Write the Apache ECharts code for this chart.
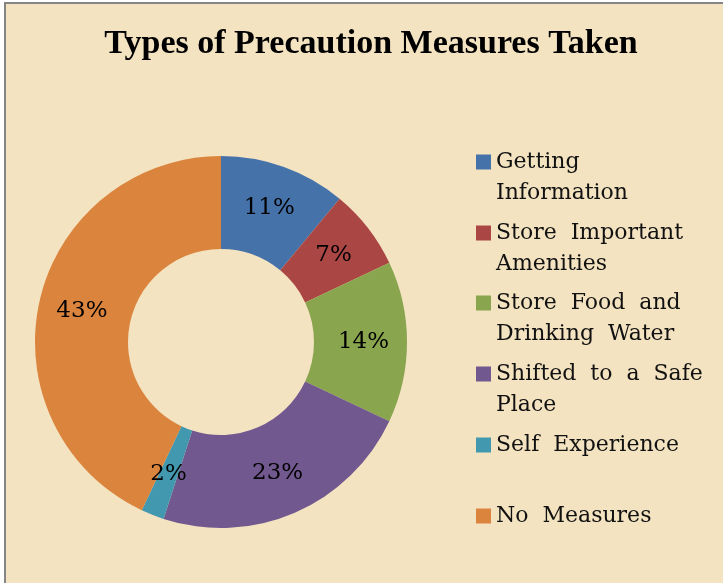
<!DOCTYPE html>
<html>
<head>
<meta charset="utf-8">
<script src="https://cdn.jsdelivr.net/npm/echarts@6/dist/echarts.min.js"></script>
<style>
  html, body { margin: 0; padding: 0; background: #fff; overflow: hidden; }
  #frame {
    position: absolute; left: 4px; top: 2px;
    width: 730px; height: 590px;
    border: 2px solid #858585;
    background: #f3e3c1;
  }
  #chart { width: 730px; height: 590px; }
</style>
</head>
<body>
<div id="frame"><div id="chart"></div></div>
<script>
// chart data
var categories = [
    "Getting Information",
    "Store Important Amenities",
    "Store Food and Drinking Water",
    "Shifted to a Safe Place",
    "Self Experience",
    "No Measures"
];
var values = [11, 7, 14, 23, 2, 43];
var legendLines = [
    ["Getting", "Information"],
    ["Store  Important", "Amenities"],
    ["Store  Food  and", "Drinking  Water"],
    ["Shifted  to  a  Safe", "Place"],
    ["Self  Experience", ""],
    ["No  Measures", ""]
];
var colors = ["#4672aa", "#aa4643", "#89a54e", "#71588f", "#4198af", "#db843d"];

var chart = echarts.init(document.getElementById("chart"));

var txtFont = "DejaVu Serif";
var legendCenters = [158, 229, 299, 370, 441, 512]; // y of each legend icon
var legends = categories.map(function(name, i) {
    return {
        data: [name],
        orient: "vertical",
        left: 470,
        top: legendCenters[i] - 46.5,
        padding: 0,
        itemWidth: 15,
        itemHeight: 15,
        itemGap: 0,
        icon: "rect",
        selectedMode: false,
        formatter: function() {
            return "\n" + legendLines[i][0] + "\n" + legendLines[i][1];
        },
        textStyle: {
            fontFamily: txtFont,
            fontSize: 22,
            lineHeight: 31,
            color: "#111"
        }
    };
});

var option = {
    backgroundColor: "transparent",
    animation: false,
    color: colors,
    title: {
        text: "Types of Precaution Measures Taken",
        left: "center",
        top: 18,
        textStyle: {
            fontFamily: "Liberation Serif",
            fontWeight: "bold",
            fontSize: 34,
            color: "#000"
        }
    },
    legend: legends,
    series: [
        {
            type: "pie",
            center: [215, 338],
            radius: [93, 186],
            startAngle: 90,
            clockwise: true,
            avoidLabelOverlap: false,
            itemStyle: { borderWidth: 0 },
            label: {
                show: true,
                position: "inside",
                formatter: "{c}%",
                fontFamily: txtFont,
                fontSize: 23,
                color: "#000"
            },
            labelLine: { show: false },
            data: categories.map(function(name, i) {
                return { name: name, value: values[i] };
            })
        }
    ]
};

chart.setOption(option);
</script>
</body>
</html>
